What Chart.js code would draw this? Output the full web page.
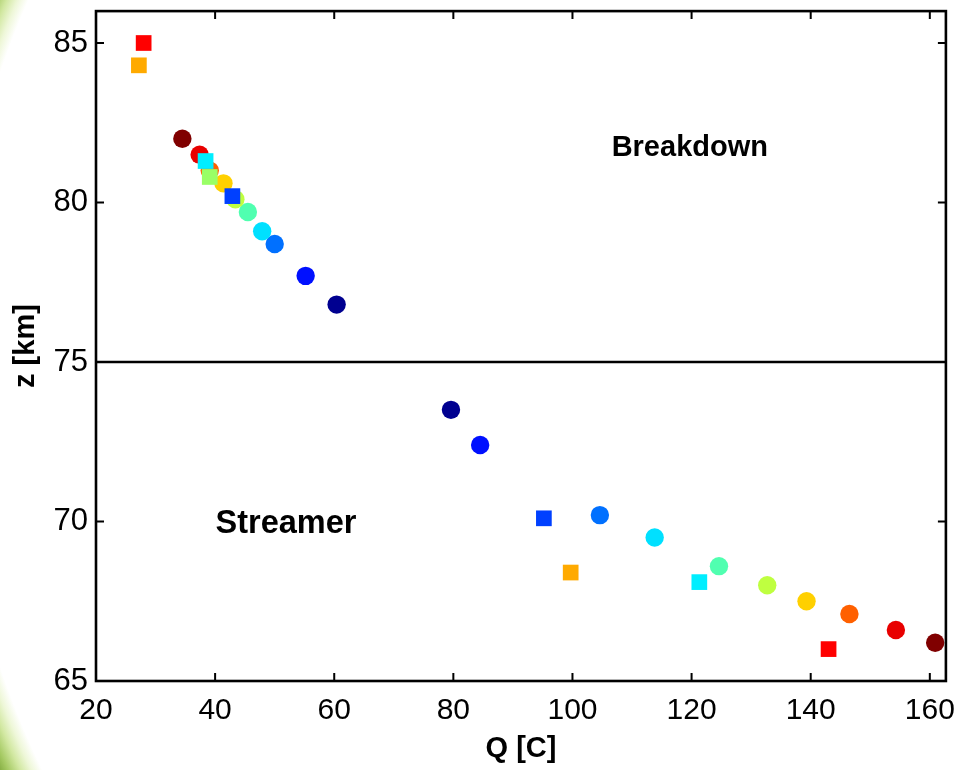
<!DOCTYPE html>
<html><head><meta charset="utf-8">
<script src="https://cdn.jsdelivr.net/npm/chart.js@4.4.1/dist/chart.umd.min.js"></script>
<style>
html,body{margin:0;padding:0;width:957px;height:770px;overflow:hidden;}
body{background: radial-gradient(circle at 872px 370px, #ffffff 0px, #ffffff 921px, #eef7d8 931px, #d2e8a2 941px, #a6ca64 952px, #7ca63a 962px, #6a942c 975px);}
#wrap{position:absolute;left:0;top:0;width:957px;height:770px;}
</style></head><body>
<div id="wrap"><canvas id="c" width="957" height="770"></canvas></div>
<script>
// ---- data ----
const xTickValues = [20, 40, 60, 80, 100, 120, 140, 160];
const yTickValues = [65, 70, 75, 80, 85];
const xRange = [20, 162.7];
const yRange = [65, 86];
const boundaryZ = 75;
const xTitle = 'Q [C]';
const yTitle = 'z [km]';
const regionLabels = ['Breakdown', 'Streamer'];
const regionLabelQ = [119.7, 51.9];
const regionLabelZ = [81.72, 69.92];

// circles (jet colour order: navy -> dark red)
const breakdownCircleQ = [60.4, 55.2, 50.0, 47.9, 45.5, 43.4, 41.4, 39.1, 37.4, 34.5];
const breakdownCircleZ = [76.8, 77.7, 78.7, 79.1, 79.7, 80.1, 80.6, 81.0, 81.5, 82.0];
const streamerCircleQ  = [79.6, 84.5, 104.6, 113.8, 124.6, 132.7, 139.3, 146.5, 154.3, 160.9];
const streamerCircleZ  = [73.5, 72.4, 70.2, 69.5, 68.6, 68.0, 67.5, 67.1, 66.6, 66.2];
const circleColors = ['#000090', '#0010ff', '#0070ff', '#00e0ff', '#50ffb0', '#bfff40', '#ffd000', '#ff6000', '#e80000', '#800000'];

// squares
const breakdownSquareQ = [28.0, 27.2, 38.4, 39.1, 42.9];
const breakdownSquareZ = [85.0, 84.3, 81.3, 80.8, 80.2];
const breakdownSquareColors = ['#ff0000', '#ffaa00', '#00eeff', '#99ff66', '#0040ff'];
const streamerSquareQ = [95.2, 99.7, 121.3, 143.0];
const streamerSquareZ = [70.1, 68.4, 68.1, 66.0];
const streamerSquareColors = ['#0040ff', '#ffaa00', '#00eeff', '#ff0000'];

// ---- build ----
const pts = (xs, ys) => xs.map((v, i) => ({x: v, y: ys[i]}));
const FONT = "'Liberation Sans', Arial, Helvetica, sans-serif";

const squareDs = (xs, ys, cols) => ({
  data: pts(xs, ys), pointStyle: 'rect', pointRadius: 11.1, pointHoverRadius: 11.1,
  pointBackgroundColor: cols, pointBorderWidth: 0, pointBorderColor: cols, showLine: false, order: 0
});
const circleDs = (xs, ys) => ({
  data: pts(xs, ys), pointStyle: 'circle', pointRadius: 9.2, pointHoverRadius: 9.2,
  pointBackgroundColor: circleColors, pointBorderWidth: 0, pointBorderColor: circleColors, showLine: false, order: 1
});

const framePlugin = {
  id: 'frame',
  afterDatasetsDraw(chart) {
    const {ctx, chartArea: a, scales: {x, y}} = chart;
    ctx.save();
    ctx.strokeStyle = '#000';
    ctx.lineWidth = 2;
    const L = 8;
    ctx.beginPath();
    xTickValues.forEach(v => {
      const px = x.getPixelForValue(v);
      ctx.moveTo(px, a.bottom); ctx.lineTo(px, a.bottom - L);
      ctx.moveTo(px, a.top); ctx.lineTo(px, a.top + L);
    });
    yTickValues.forEach(v => {
      const py = y.getPixelForValue(v);
      ctx.moveTo(a.left, py); ctx.lineTo(a.left + L, py);
      ctx.moveTo(a.right, py); ctx.lineTo(a.right - L, py);
    });
    ctx.stroke();
    ctx.lineWidth = 2.6;
    ctx.strokeRect(a.left, a.top, a.right - a.left, a.bottom - a.top);
    // region labels
    ctx.fillStyle = '#000';
    ctx.textAlign = 'center';
    ctx.textBaseline = 'middle';
    const sizes = [29, 32.5];
    regionLabels.forEach((t, i) => {
      ctx.font = "bold " + sizes[i] + "px " + FONT;
      ctx.fillText(t, x.getPixelForValue(regionLabelQ[i]), y.getPixelForValue(regionLabelZ[i]));
    });
    ctx.restore();
  }
};

new Chart(document.getElementById('c'), {
  type: 'scatter',
  data: {
    datasets: [
      squareDs(breakdownSquareQ, breakdownSquareZ, breakdownSquareColors),
      squareDs(streamerSquareQ, streamerSquareZ, streamerSquareColors),
      circleDs(breakdownCircleQ, breakdownCircleZ),
      circleDs(streamerCircleQ, streamerCircleZ),
      {
        type: 'line', data: [{x: xRange[0], y: boundaryZ}, {x: xRange[1], y: boundaryZ}],
        borderColor: '#000', borderWidth: 2.6, pointRadius: 0, showLine: true, fill: false, order: 2
      }
    ]
  },
  options: {
    responsive: false,
    animation: false,
    events: [],
    layout: {padding: {left: 0, top: 11, right: 9, bottom: 0}},
    plugins: {legend: {display: false}, tooltip: {enabled: false}},
    scales: {
      x: {
        type: 'linear', min: xRange[0], max: xRange[1],
        afterBuildTicks: s => { s.ticks = xTickValues.map(v => ({value: v})); },
        afterFit: s => { s.height = 89; s.paddingLeft = 0; s.paddingRight = 0; },
        grid: {display: false, drawTicks: false},
        border: {display: false},
        ticks: {color: '#000', font: {family: FONT, size: 30}, padding: 12, maxRotation: 0, autoSkip: false},
        title: {display: true, text: xTitle, color: '#000', font: {family: FONT, size: 29, weight: 'bold'}, padding: {top: 0, bottom: 4}}
      },
      y: {
        type: 'linear', min: yRange[0], max: yRange[1],
        afterBuildTicks: s => { s.ticks = yTickValues.map(v => ({value: v})); },
        afterFit: s => { s.width = 96; s.paddingTop = 0; s.paddingBottom = 0; },
        grid: {display: false, drawTicks: false},
        border: {display: false},
        ticks: {color: '#000', font: {family: FONT, size: 31}, padding: 8, autoSkip: false},
        title: {display: true, text: yTitle, color: '#000', font: {family: FONT, size: 29, weight: 'bold'}, padding: {top: 9, bottom: 0}}
      }
    }
  },
  plugins: [framePlugin]
});
</script>
</body></html>
